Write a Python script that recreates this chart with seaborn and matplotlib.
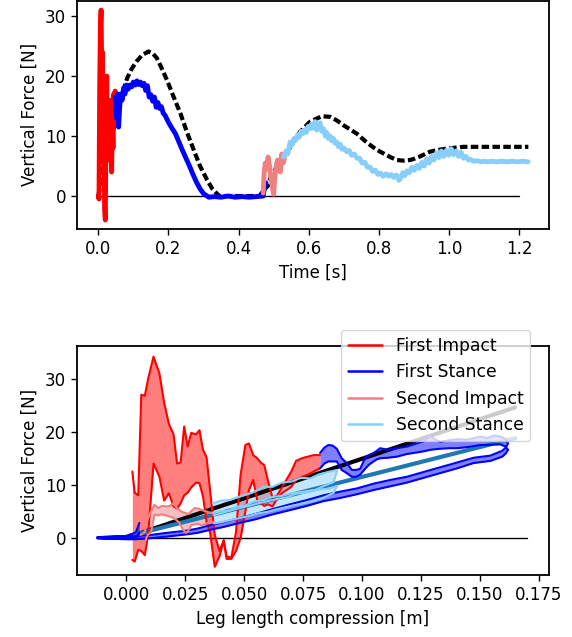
import numpy as np
import pandas as pd
import matplotlib
matplotlib.use("Agg")
import matplotlib.pyplot as plt
from matplotlib.lines import Line2D
import seaborn as sns

# ---------------- data: time domain (top panel) ----------------
t_first_impact = [0.000, 0.002, 0.004, 0.006, 0.008, 0.010, 0.012, 0.014, 0.016, 0.018, 0.020, 0.022,
                  0.024, 0.026, 0.028, 0.030, 0.032, 0.034, 0.036, 0.038, 0.040, 0.042, 0.044, 0.046,
                  0.048, 0.050]
f_first_impact = [0.0, -0.5, 18.0, 28.0, 31.0, 20.0, 24.0, 6.0, 14.0, -2.0, -4.0, 10.0,
                  20.0, 8.0, 16.0, 6.0, 15.0, 9.0, 16.0, 4.0, 13.0, 8.0, 17.0, 12.0,
                  17.5, 15.0]

t_first_stance = [0.048, 0.052, 0.055, 0.058, 0.061, 0.064, 0.068, 0.072, 0.076, 0.080, 0.085, 0.090,
                  0.095, 0.100, 0.105, 0.110, 0.115, 0.120, 0.125, 0.130, 0.135, 0.140, 0.145, 0.150,
                  0.155, 0.160, 0.165, 0.170, 0.175, 0.180, 0.185, 0.190, 0.200, 0.210, 0.220, 0.230,
                  0.240, 0.250, 0.260, 0.270, 0.280, 0.290, 0.300, 0.310, 0.315, 0.330, 0.350, 0.370,
                  0.390, 0.410, 0.430, 0.450, 0.470, 0.474, 0.478]
f_first_stance = [16.5, 13.0, 17.0, 11.5, 15.0, 17.0, 16.0, 18.0, 17.0, 18.5, 17.8, 18.5,
                  18.2, 19.0, 18.5, 19.2, 18.6, 19.0, 18.4, 18.8, 17.6, 18.4, 16.5, 16.9,
                  15.8, 16.5, 14.8, 15.6, 14.6, 14.9, 13.8, 13.5, 12.3, 11.3, 10.4, 9.0,
                  7.6, 6.3, 5.0, 3.6, 2.3, 1.2, 0.4, 0.0, -0.2, -0.1, -0.2, 0.0,
                  -0.2, -0.1, -0.2, -0.1, 0.0, 1.5, 2.2]

t_second_impact = [0.470, 0.473, 0.476, 0.480, 0.484, 0.488, 0.492, 0.496, 0.500, 0.503, 0.507, 0.511,
                   0.515, 0.519, 0.523, 0.527, 0.531]
f_second_impact = [0.5, 4.0, 5.5, 4.5, 6.5, 5.0, 3.0, 1.5, 0.3, 3.0, 5.0, 6.0,
                   4.5, 4.0, 7.0, 5.5, 6.5]

t_second_stance = [0.528, 0.535, 0.540, 0.547, 0.552, 0.558, 0.563, 0.568, 0.573, 0.578, 0.583, 0.588,
                   0.593, 0.598, 0.603, 0.608, 0.613, 0.618, 0.623, 0.628, 0.632, 0.637, 0.642, 0.647,
                   0.651, 0.656, 0.661, 0.666, 0.670, 0.675, 0.680, 0.685, 0.690, 0.695, 0.700, 0.708,
                   0.715, 0.722, 0.730, 0.737, 0.745, 0.752, 0.760, 0.767, 0.775, 0.782, 0.790, 0.797,
                   0.805, 0.812, 0.820, 0.828, 0.835, 0.842, 0.850, 0.857, 0.862, 0.868, 0.874, 0.880,
                   0.887, 0.894, 0.901, 0.908, 0.915, 0.922, 0.929, 0.936, 0.943, 0.950, 0.957, 0.964,
                   0.971, 0.978, 0.985, 0.992, 0.999, 1.006, 1.013, 1.020, 1.027, 1.034, 1.041, 1.048,
                   1.055, 1.062, 1.070, 1.080, 1.090, 1.100, 1.110, 1.120, 1.135, 1.150, 1.165, 1.180,
                   1.195, 1.210, 1.225]
f_second_stance = [6.5, 7.5, 7.0, 9.0, 8.5, 9.6, 9.3, 10.2, 9.8, 10.8, 10.4, 11.0,
                   10.6, 11.6, 11.2, 12.0, 11.3, 12.4, 11.0, 11.6, 12.2, 10.8, 11.2, 10.0,
                   10.6, 9.6, 10.0, 9.2, 9.6, 8.8, 9.0, 8.2, 8.6, 7.8, 8.0, 7.4,
                   7.6, 6.8, 7.0, 6.3, 6.3, 5.5, 5.6, 4.8, 4.8, 4.1, 4.3, 3.6,
                   3.8, 3.3, 3.7, 3.3, 3.6, 3.1, 3.5, 2.6, 3.0, 3.9, 3.4, 4.2,
                   3.9, 4.8, 4.3, 5.1, 4.6, 5.6, 5.0, 6.2, 5.5, 6.6, 6.0, 7.2,
                   6.4, 7.5, 6.6, 7.6, 6.8, 7.9, 6.9, 7.5, 6.6, 7.3, 6.3, 6.6,
                   6.0, 6.1, 5.8, 5.9, 5.7, 5.8, 5.7, 5.8, 5.7, 5.8, 5.7, 5.8,
                   5.7, 5.8, 5.7]

t_model = [0.000, 0.005, 0.010, 0.020, 0.030, 0.040, 0.050, 0.060, 0.070, 0.082, 0.095, 0.110,
           0.125, 0.143, 0.155, 0.167, 0.180, 0.196, 0.215, 0.234, 0.253, 0.272, 0.290, 0.310,
           0.325, 0.338, 0.345, 0.400, 0.460, 0.471, 0.485, 0.490, 0.505, 0.523, 0.542, 0.575,
           0.604, 0.637, 0.661, 0.680, 0.699, 0.718, 0.737, 0.756, 0.775, 0.794, 0.813, 0.832,
           0.851, 0.870, 0.889, 0.900, 0.917, 0.946, 0.970, 0.993, 1.040, 1.090, 1.135, 1.180,
           1.226]
f_model = [0.0, 1.5, 4.5, 7.5, 9.5, 10.8, 12.0, 14.5, 17.3, 19.6, 21.2, 22.5,
           23.5, 24.1, 23.8, 23.0, 21.4, 19.3, 16.5, 13.8, 10.6, 7.7, 5.0, 2.7,
           1.2, 0.4, 0.0, 0.0, 0.0, 1.0, 1.8, 3.0, 4.5, 6.0, 7.7, 10.7,
           12.4, 13.3, 13.2, 12.6, 11.8, 11.1, 10.4, 9.4, 8.5, 7.7, 7.1, 6.5,
           6.0, 5.9, 6.0, 6.2, 6.6, 7.4, 7.7, 7.9, 8.2, 8.2, 8.2, 8.2,
           8.2]

t_ground = [0.0, 1.2]

# ---------------- data: force vs compression (bottom panel) ----------------
x_fi = [0.0025, 0.0035, 0.0050, 0.0063, 0.0078, 0.0092, 0.0115, 0.0140, 0.0160, 0.0180, 0.0200, 0.0215,
        0.0230, 0.0245, 0.0260, 0.0275, 0.0295, 0.0310, 0.0325, 0.0340, 0.0355, 0.0375, 0.0395, 0.0413,
        0.0425, 0.0445, 0.0465, 0.0485, 0.0505, 0.0520, 0.0538, 0.0555, 0.0570, 0.0585, 0.0600, 0.0620,
        0.0640, 0.0660, 0.0680, 0.0700, 0.0720, 0.0745, 0.0770, 0.0795, 0.0822]
up_fi = [12.5, 8.5, 8.0, 27.0, 26.8, 30.0, 34.2, 31.0, 25.5, 21.5, 19.5, 14.0,
         14.2, 21.0, 17.2, 19.8, 19.5, 20.3, 16.6, 15.2, 9.0, 0.5, -2.5, -0.5,
         -3.5, -3.8, 1.0, 12.0, 17.5, 17.8, 15.6, 15.0, 14.2, 13.7, 10.9, 7.5,
         8.0, 9.5, 11.0, 12.5, 14.5, 15.0, 15.3, 15.6, 15.6]
lo_fi = [-4.2, -4.5, -2.3, -2.5, -3.3, 0.5, 14.0, 11.5, 7.0, 8.4, 5.9, 5.5,
         6.5, 8.0, 8.5, 9.5, 10.4, 10.3, 7.8, 3.0, 1.0, -5.5, -3.5, -0.5,
         -4.0, -4.0, -2.5, 0.0, 5.0, 9.0, 10.9, 7.1, 6.5, 6.0, 6.3, 5.9,
         7.4, 8.4, 9.0, 9.6, 10.9, 11.5, 11.9, 12.5, 13.1]

x_fs = [0.0822, 0.0840, 0.0857, 0.0875, 0.0893, 0.0914, 0.0935, 0.0957, 0.0975, 0.0992, 0.1013, 0.1030,
        0.1049, 0.1063, 0.1077, 0.1110, 0.1148, 0.1190, 0.1233, 0.1261, 0.1290, 0.1310, 0.1332, 0.1370,
        0.1404, 0.1446, 0.1475, 0.1503, 0.1530, 0.1560, 0.1588, 0.1610, 0.1620,
        0.1610, 0.1595, 0.1545, 0.1474, 0.1404, 0.1332, 0.1261, 0.1190, 0.1120, 0.1049, 0.0978,
        0.0907, 0.0836, 0.0765, 0.0694, 0.0620, 0.0550, 0.0481, 0.0410, 0.0367, 0.0300, 0.0250,
        0.0169, 0.0100, 0.0040, 0.0000, -0.0060, -0.0123, -0.0060, 0.0000, 0.0040, 0.0055]
up_fs = [16.0, 17.0, 17.5, 17.4, 16.8, 15.0, 14.1, 12.8, 12.8, 13.0, 15.0, 15.6,
         16.0, 16.4, 16.9, 16.6, 16.9, 17.2, 17.8, 18.2, 19.1, 18.6, 18.1, 18.4,
         18.6, 18.5, 18.8, 19.1, 18.8, 19.3, 19.1, 18.6, 17.8,
         17.0, 16.4, 15.5, 15.1, 14.2, 13.3, 12.4, 11.5, 10.9, 10.2, 9.3,
         8.7, 8.0, 7.1, 6.3, 5.4, 4.5, 3.7, 2.9, 2.5, 1.7, 1.3,
         0.9, 0.5, 0.3, 0.2, 0.2, 0.1, 0.2, 0.3, 1.0, 2.8]
lo_fs = [13.1, 14.0, 14.4, 14.4, 14.4, 12.8, 12.2, 11.5, 11.5, 11.9, 13.0, 13.8,
         14.4, 14.8, 15.0, 15.1, 15.3, 15.8, 16.1, 16.3, 16.6, 16.7, 16.8, 16.9,
         16.9, 17.1, 17.3, 17.5, 17.5, 17.6, 17.6, 17.2, 16.6,
         15.9, 15.3, 14.5, 14.1, 13.1, 12.2, 11.3, 10.4, 9.7, 9.0, 8.2,
         7.5, 6.9, 6.0, 5.2, 4.4, 3.5, 2.8, 2.0, 1.6, 0.9, 0.6,
         0.2, -0.1, -0.3, -0.3, -0.2, -0.1, -0.2, -0.2, 0.0, 1.0]

x_si = [0.0060, 0.0077, 0.0090, 0.0105, 0.0119, 0.0135, 0.0150, 0.0169, 0.0183, 0.0197, 0.0210, 0.0225,
        0.0240, 0.0254, 0.0265, 0.0275, 0.0290, 0.0305, 0.0320, 0.0335, 0.0350, 0.0368]
up_si = [0.5, 1.0, 3.5, 5.0, 6.2, 5.6, 6.0, 5.9, 6.0, 6.5, 5.8, 5.2,
         4.8, 4.6, 4.5, 5.0, 5.6, 5.5, 5.2, 5.0, 4.8, 4.6]
lo_si = [-1.0, -1.0, 0.5, 1.1, 4.4, 4.2, 4.4, 4.2, 4.0, 3.8, 3.4, 2.8,
         1.5, 0.9, 1.5, 2.4, 2.5, 2.6, 2.3, 2.6, 2.8, 3.0]

x_ss = [0.0367, 0.0400, 0.0438, 0.0470, 0.0500, 0.0540, 0.0580, 0.0620, 0.0660, 0.0700, 0.0740, 0.0780,
        0.0820, 0.0864, 0.0895,
        0.0880, 0.0840, 0.0800, 0.0760, 0.0720, 0.0680, 0.0640, 0.0600, 0.0560, 0.0520, 0.0480, 0.0440,
        0.0400, 0.0370]
up_ss = [6.5, 7.0, 7.1, 7.6, 8.0, 8.6, 9.6, 9.6, 10.4, 10.6, 11.3, 11.2,
         12.0, 12.5, 12.8,
         10.5, 9.8, 9.0, 8.5, 8.3, 7.6, 7.3, 6.9, 6.5, 6.0, 5.6, 5.1,
         4.6, 4.2]
lo_ss = [4.6, 5.0, 5.2, 5.9, 6.0, 6.8, 7.1, 7.7, 7.9, 8.4, 8.6, 8.9,
         9.1, 9.3, 9.8,
         8.5, 7.6, 7.0, 6.6, 6.2, 5.8, 5.4, 4.9, 4.6, 4.1, 3.7, 3.3,
         2.9, 2.7]

x_model_line = [0.0, 0.165]
f_model_line = [0.0, 24.6]
x_fit_line = [0.0, 0.165]
f_fit_line = [0.2, 18.8]
x_ground = [-0.0123, 0.170]

labels = ["First Impact", "First Stance", "Second Impact", "Second Stance"]
colors = ["red", "blue", "lightcoral", "lightskyblue"]

# ---------------- style ----------------
sns.set_style("ticks", {"axes.edgecolor": "black", "xtick.color": "black", "ytick.color": "black",
                        "axes.labelcolor": "black", "text.color": "black"})
plt.rcParams["font.family"] = ["DejaVu Sans"]
plt.rcParams["font.size"] = 12
plt.rcParams["axes.linewidth"] = 1.3
plt.rcParams["xtick.major.size"] = 4.5
plt.rcParams["ytick.major.size"] = 4.5
plt.rcParams["xtick.major.width"] = 1.0
plt.rcParams["ytick.major.width"] = 1.0
plt.rcParams["xtick.labelsize"] = 12
plt.rcParams["ytick.labelsize"] = 12
plt.rcParams["axes.labelsize"] = 12
plt.rcParams["legend.fontsize"] = 12.3

fig = plt.figure(figsize=(5.72, 6.37), dpi=100)
ax1 = fig.add_axes([0.1346, 0.6405, 0.8252, 0.3587])
ax2 = fig.add_axes([0.1346, 0.0973, 0.8252, 0.3595])


def line(ax, x, y, color, lw, **kw):
    sns.lineplot(x=x, y=y, ax=ax, color=color, linewidth=lw, sort=False,
                 estimator=None, legend=False, **kw)


# ---------------- top panel ----------------
line(ax1, t_model, f_model, "black", 3.0, linestyle=(0, (1.8, 0.8)))
line(ax1, t_ground, [0, 0], "black", 1.0)
line(ax1, t_first_impact, f_first_impact, colors[0], 3.5)
line(ax1, t_first_stance, f_first_stance, colors[1], 3.5)
line(ax1, t_second_impact, f_second_impact, colors[2], 3.5)
line(ax1, t_second_stance, f_second_stance, colors[3], 3.5)
ax1.set_xlim(-0.0607, 1.2848)
ax1.set_ylim(-5.5, 32.6)
ax1.set_xticks([0.0, 0.2, 0.4, 0.6, 0.8, 1.0, 1.2])
ax1.set_yticks([0, 10, 20, 30])
ax1.set_xlabel("Time [s]")
ax1.set_ylabel("Vertical Force [N]")

# ---------------- bottom panel ----------------
line(ax2, x_ground, [0, 0], "black", 1.0)
line(ax2, x_model_line, f_model_line, "black", 3.0)
line(ax2, x_fit_line, f_fit_line, "#1f77b4", 3.0)
bands = [(x_fi, up_fi, lo_fi), (x_fs, up_fs, lo_fs), (x_si, up_si, lo_si), (x_ss, up_ss, lo_ss)]
for (xb, ub, lb), c in zip(bands, colors):
    ax2.fill_between(xb, lb, ub, color=c, alpha=0.5, linewidth=0)
    line(ax2, xb, ub, c, 1.5)
    line(ax2, xb, lb, c, 1.5)
ax2.set_xlim(-0.0210, 0.1794)
ax2.set_ylim(-7.05, 36.2)
ax2.set_xticks([0.0, 0.025, 0.05, 0.075, 0.1, 0.125, 0.15, 0.175])
ax2.set_xticklabels(["0.000", "0.025", "0.050", "0.075", "0.100", "0.125", "0.150", "0.175"])
ax2.set_yticks([0, 10, 20, 30])
ax2.set_xlabel("Leg length compression [m]")
ax2.set_ylabel("Vertical Force [N]")
handles = [Line2D([], [], color=c, linewidth=1.8) for c in colors]
ax2.legend(handles, labels, loc="upper right", bbox_to_anchor=(0.96, 1.07), borderaxespad=0,
           frameon=True, framealpha=0.8, edgecolor="0.8", fancybox=True)

fig.savefig("out.png", dpi=100)
